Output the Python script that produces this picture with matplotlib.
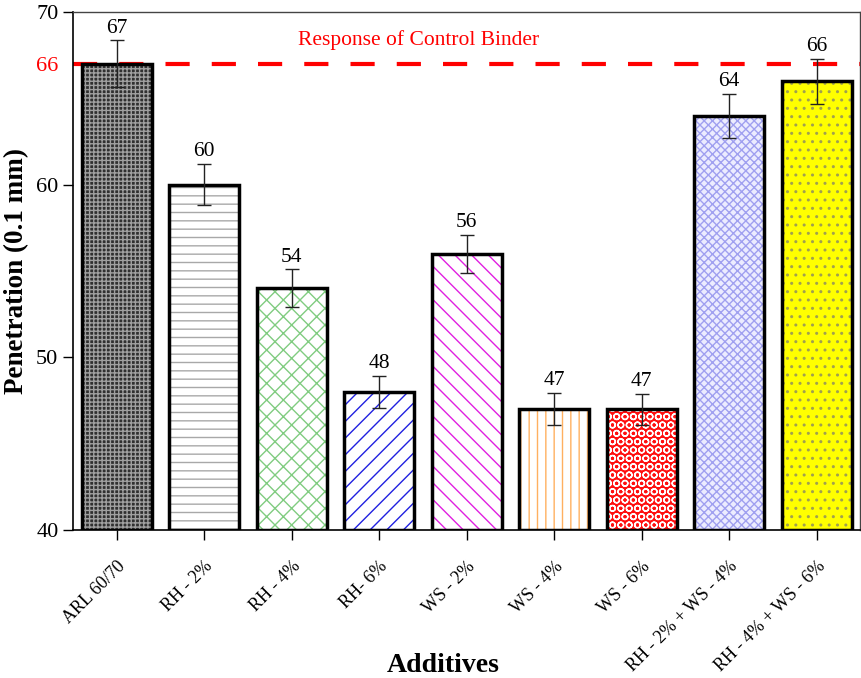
import numpy as np
import matplotlib.pyplot as plt

plt.rcParams['font.family'] = ['Liberation Serif', 'DejaVu Serif']
plt.rcParams['hatch.linewidth'] = 1.0

additives = ['ARL 60/70', 'RH - 2%', 'RH - 4%', 'RH- 6%', 'WS - 2%', 'WS - 4%',
             'WS - 6%', 'RH - 2% + WS - 4%', 'RH - 4% + WS - 6%']
penetration = [67, 60, 54, 48, 56, 47, 47, 64, 66]
errors = [1.35, 1.2, 1.1, 0.93, 1.1, 0.93, 0.9, 1.27, 1.3]
control_value = 67
control_label = '66'

# face colour, hatch colour, hatch pattern per bar
faces = ['#303030', 'white', 'white', 'white', 'white', 'white', '#ff1010', '#ececff', '#ffff00']
hcolors = ['#a0a0a0', '#a8a8a8', '#80cc80', '#2020e0', '#e020e0', '#ffb060', 'white', '#a0a0f0', '#a0a050']
hatches = ['++++', '--', 'xx', '//', '\\\\', '||', 'OO', 'xxxx', '..']

fig = plt.figure(figsize=(8.62, 6.78), dpi=100)
ax = fig.add_axes([0.0847, 0.2183, 0.9133, 0.764])

x = np.arange(len(additives))

ax.axhline(control_value, color='red', lw=3, linestyle=(0, (5.8, 5.3)), zorder=1)
ax.text(4 - 0.55, control_value + 0.8, 'Response of Control Binder', color='red',
        fontsize=15.5, ha='center', va='bottom')

for i in range(len(x)):
    ax.bar(x[i], penetration[i] - 40, bottom=40, width=0.8, color=faces[i],
           edgecolor=hcolors[i], hatch=hatches[i], lw=0, zorder=2)
    ax.bar(x[i], penetration[i] - 40, bottom=40, width=0.8, fill=False,
           edgecolor='black', lw=2.5, zorder=3)

ax.errorbar(x, penetration, yerr=errors, fmt='none', ecolor='#222222',
            elinewidth=1, capsize=5, capthick=1, zorder=4)

for i in range(len(x)):
    ax.text(x[i], penetration[i] + errors[i] + 0.15, str(penetration[i]),
            ha='center', va='bottom', fontsize=15.5)

ax.set_xlim(-0.5, 8.5)
ax.set_ylim(40, 70)
ax.set_yticks([40, 50, 60, 70, control_value])
ax.set_yticklabels(['40', '50', '60', '70', control_label])
ax.get_yticklabels()[-1].set_color('red')
ax.yaxis.get_major_ticks()[-1].tick1line.set_visible(False)
ax.set_xticks(x)
ax.set_xticklabels(additives, rotation=45, ha='right', rotation_mode='anchor', fontsize=13)
ax.tick_params(axis='y', labelsize=16, direction='out', length=7, width=1)
ax.tick_params(axis='x', direction='out', length=7, width=1, pad=13)

ax.set_ylabel('Penetration (0.1 mm)', fontsize=19.5, fontweight='bold', labelpad=5)
ax.set_xlabel('Additives', fontsize=20, fontweight='bold')
ax.xaxis.set_label_coords(0.47, -0.237)

for side in ['left', 'bottom']:
    ax.spines[side].set_linewidth(1.2)
for side in ['top', 'right']:
    ax.spines[side].set_linewidth(1)
    ax.spines[side].set_color('#444444')

fig.savefig('out.png', dpi=100)
